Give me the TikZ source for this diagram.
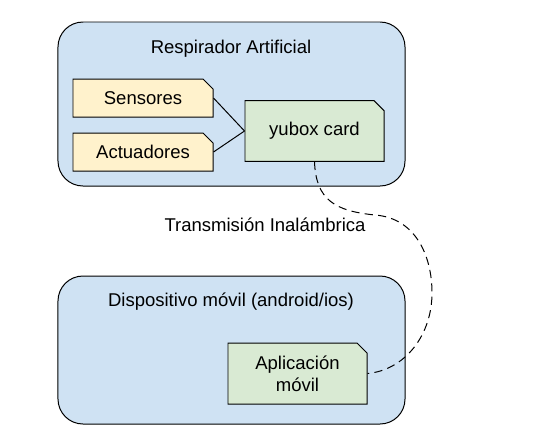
\documentclass[tikz,border=0pt]{standalone}
\usepackage{fontspec}
\setmainfont{Liberation Sans}
\usetikzlibrary{shapes.misc}

\definecolor{contblue}{HTML}{CFE2F3}
\definecolor{noteyellow}{HTML}{FFF2CC}
\definecolor{notegreen}{HTML}{D9EAD3}

\begin{document}
\begin{tikzpicture}[x=0.03cm, y=-0.03cm,
  every node/.style={font=\fontsize{15.8}{19}\selectfont},
  cont/.style={draw, line width=0.85pt, fill=contblue, rounded corners=0.75cm},
  note/.style={draw, line width=0.85pt, chamfered rectangle, chamfered rectangle corners=north east,
               chamfered rectangle xsep=0.15cm, chamfered rectangle ysep=0.15cm,
               minimum width=4.2cm, inner sep=0pt, align=center},
  yellownote/.style={note, fill=noteyellow, minimum height=1.14cm},
  greennote/.style={note, fill=notegreen, minimum width=4.17cm, minimum height=1.82cm}]
\useasboundingbox (0,0) rectangle (535,439);

\node[cont, minimum width=10.41cm, minimum height=4.92cm] (resp) at (231.5,104) {};
\node (resptitle) at (231,49) {Respirador Artificial};
\node[yellownote] (sens) at (143,98)  {Sensores};
\node[yellownote] (act)  at (143,152) {Actuadores};
\node[greennote]  (yubox) at (314.5,131) {yubox card};

\node[cont, minimum width=10.41cm, minimum height=4.44cm] (disp) at (231.5,350) {};
\node (disptitle) at (231,302) {Dispositivo móvil (android/ios)};
\node[greennote, minimum height=1.83cm] (app) at (297.5,373.5) {Aplicación\\móvil};

\node (tx) at (265,225) {Transmisión Inalámbrica};

\draw[line width=0.85pt] (sens.east) -- (yubox.west);
\draw[line width=0.85pt] (act.east)  -- (yubox.west);
\draw[line width=0.85pt, dash pattern=on 7pt off 4.5pt]
  (yubox.south) .. controls (316,200) and (335,211) .. (375,215)
                .. controls (415,218) and (432,255) .. (432,293)
                .. controls (432,335) and (405,370) .. (app.east);
\end{tikzpicture}
\end{document}
